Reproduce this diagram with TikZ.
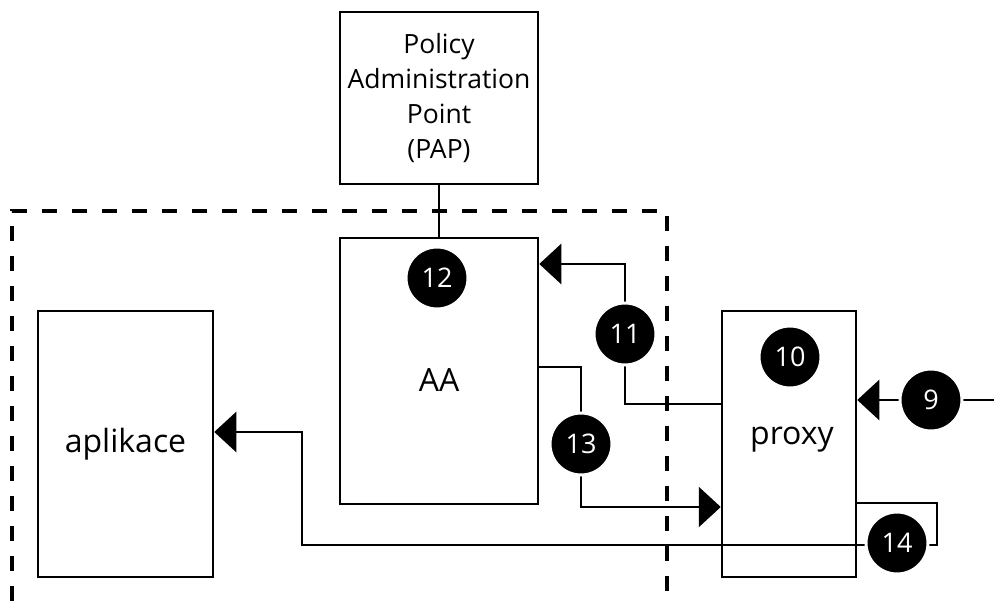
\documentclass[tikz,border=0pt]{standalone}
\usepackage{fontspec}
\setmainfont{Open Sans}
\usetikzlibrary{arrows.meta}
\tikzset{
  x=1pt, y=-1pt,
  box/.style={draw, line width=2.5pt, inner sep=0pt, align=center},
  label/.style={font=\fontsize{32}{32}\selectfont},
  num/.style={circle, fill=black, draw=white, line width=3pt, minimum size=62pt,
              inner sep=0pt, text=white, font=\fontsize{27}{27}\selectfont},
  arr/.style={line width=2.5pt, -{Triangle[length=22pt,width=40pt]}},
  link/.style={line width=2.5pt},
  frame/.style={line width=3.5pt, dash pattern=on 15pt off 15pt},
}
\begin{document}
\begin{tikzpicture}
\useasboundingbox (0,0) rectangle (994,601);

% trust boundary
\draw[frame] (12,601) -- (12,211) -- (667,211) -- (667,601);

% components
\node[box, minimum width=198pt, minimum height=172pt,
      font=\fontsize{26.5}{35}\selectfont] (pap) at (439,98)
      {Policy\\Administration\\Point\\(PAP)};
\node[box, minimum width=198pt, minimum height=266pt] (aa) at (439,371) {};
\node[label] (aalabel) at (439,380) {AA};
\node[box, label, minimum width=175pt, minimum height=266pt] (app) at (125.5,444) {aplikace};
\node[box, minimum width=134pt, minimum height=266pt] (proxy) at (789,444) {};
\node[label] (proxylabel) at (792,440) {proxy};

% bend points
\coordinate (edge) at (994,400);
\coordinate (loop) at (937,545);
\coordinate (turn) at (302,432);

% connectors
\draw[link] (pap.south) -- (aa.north);
\draw[arr] (proxy.west |- 0,404) -| (625,334) |- (aa.east |- 0,264);
\draw[arr] (aa.east |- 0,367) -| (581,444) |- (proxy.west |- 0,507);
\draw[arr] (edge) -- (proxy.east |- edge);
\draw[arr] (proxy.east |- 0,503) -| (loop) -| (turn) -- (app.east |- turn);

% step numbers
\node[num] (n12) at (437,278) {12};
\node[num] (n10) at (790,357) {10};
\node[num] (n11) at (625,334) {11};
\node[num] (n13) at (581,444) {13};
\node[num] (n9) at (931,400) {9};
\node[num] (n14) at (897,543) {14};
\end{tikzpicture}
\end{document}
